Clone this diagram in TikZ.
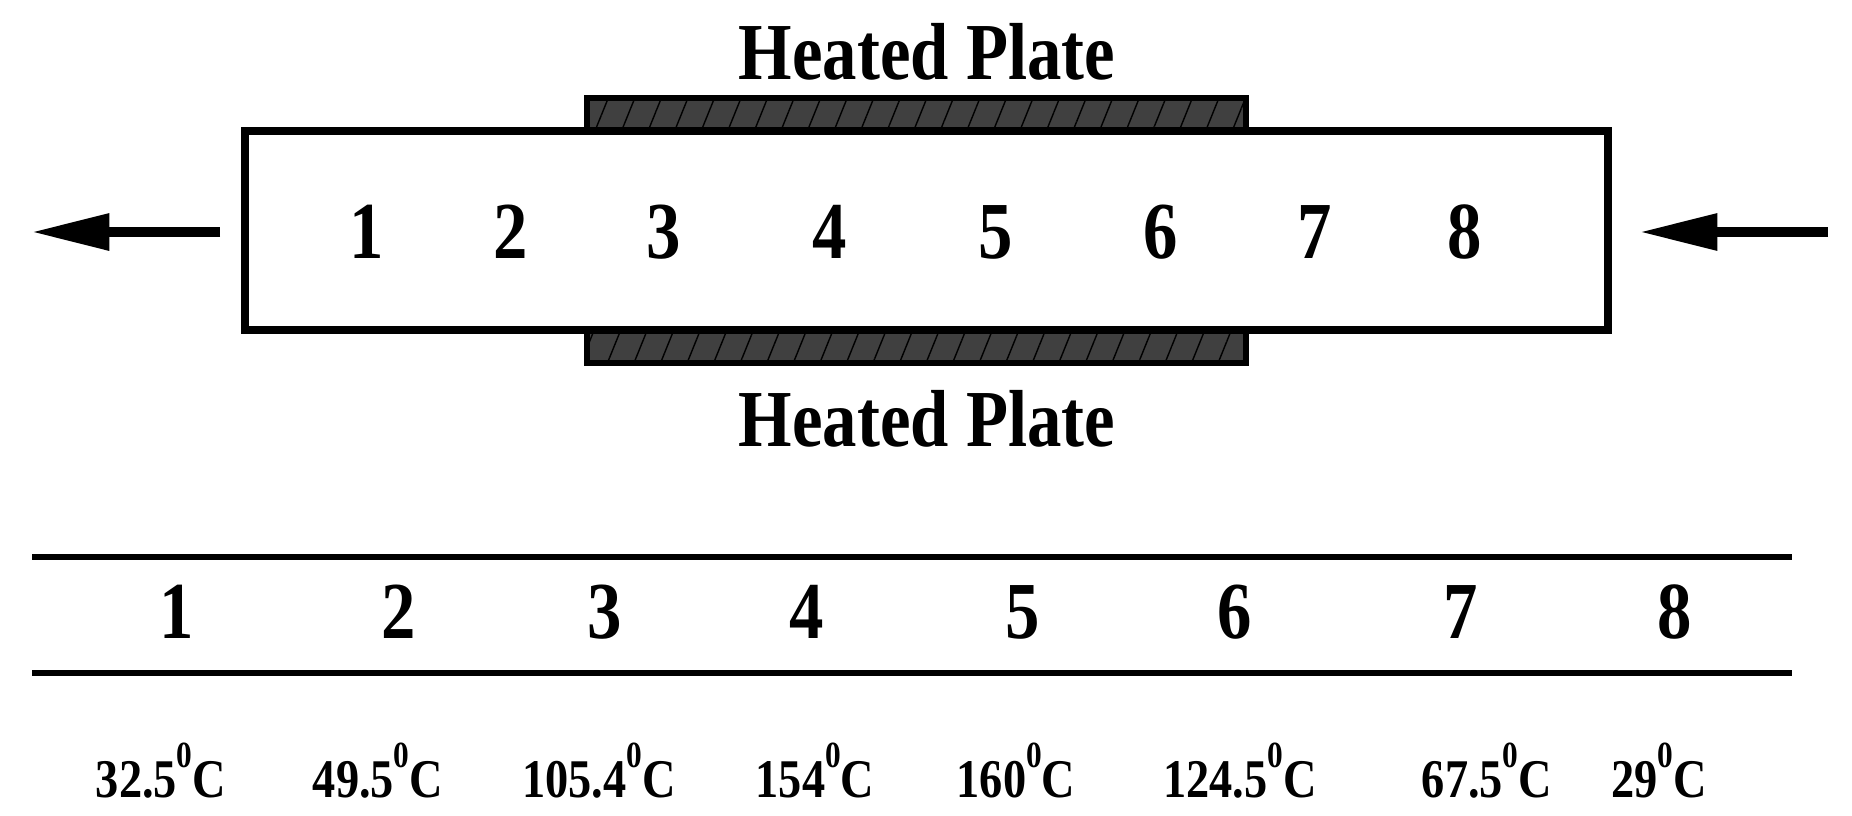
\documentclass[tikz,border=0pt]{standalone}
\usepackage{fontspec}
\setmainfont{Liberation Serif}[FakeStretch=0.85]
\usetikzlibrary{positioning}
\usetikzlibrary{arrows.meta,patterns.meta}

\newcommand{\degsup}{\raisebox{8.5pt}{\fontsize{10.5}{12}\selectfont 0}}

\begin{document}
\begin{tikzpicture}[x=0.01cm,y=-0.01cm,
  every node/.style={font=\bfseries,inner sep=0pt},
  num/.style={font=\bfseries\fontsize{23}{26}\selectfont},
  temp/.style={font=\bfseries\fontsize{15.5}{18}\selectfont},
  label/.style={font=\bfseries\fontsize{23}{26}\selectfont},
  plate/.style={draw,line width=1.5pt,fill=black!75,
    postaction={pattern={Lines[angle=68,distance=7pt,line width=.4pt]},pattern color=black}},
  flow/.style={line width=2.6pt,-{Triangle[length=22pt,width=10pt]}},
  rule/.style={line width=1.8pt}]
\useasboundingbox (0,0) rectangle (1852,815);

% heated plates and channel
\draw[plate] (587,98) rectangle (1246,131);
\draw[plate] (587,330) rectangle (1246,363);
\draw[line width=2.3pt] (245,131) rectangle (1608,330);
\node[label] (hpTop) at (927,52) {Heated Plate};
\node[label] (hpBot) at (927,419) {Heated Plate};

\foreach \x [count=\i] in {367,511,664,830,996,1161,1315,1465}
  \node[num] (p\i) at (\x,232) {\i};

% flow in and out
\coordinate (outS) at (220,232);
\coordinate (outE) at (32,232);
\coordinate (inS) at (1828,232);
\coordinate (inE) at (1640,232);
\draw[flow] (outS) -- (outE);
\draw[flow] (inS) -- (inE);

% table
\draw[rule] (32,557) -- (1792,557);
\draw[rule] (32,673) -- (1792,673);
\foreach \x [count=\i] in {177,399,605,807,1023,1235,1461,1675}
  \node[num] (t\i) at (\x,612) {\i};
\foreach \x/\t [count=\i] in {161/32.5,378/49.5,599/105.4,815/154,1016/160,1240/124.5,1487/67.5,1659/29}
  \node[temp,anchor=base] (c\i) at (\x,797) {\t\degsup C};
\end{tikzpicture}
\end{document}
